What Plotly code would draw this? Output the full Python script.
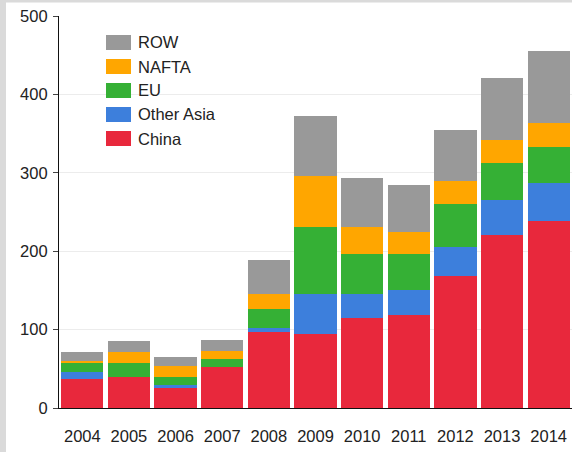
import plotly.graph_objects as go

# Stacked bars by region, 2004-2014
years = ["2004", "2005", "2006", "2007", "2008", "2009", "2010", "2011", "2012", "2013", "2014"]

china = [37, 39, 25, 52, 97, 94, 115, 119, 169, 221, 238]
other_asia = [9, 0, 4, 0, 5.5, 52, 31, 31, 37, 44, 49]
eu = [11, 19, 11, 10, 23.5, 85, 50, 46, 54, 48, 46]
nafta = [3, 13, 13, 11, 20, 65, 35, 29, 30, 29, 31]
row = [11, 14, 12, 14, 43, 76, 62, 59, 64, 79, 92]

series_names = ["China", "Other Asia", "EU", "NAFTA", "ROW"]
series_values = [china, other_asia, eu, nafta, row]
series_colors = ["#e8283c", "#3d7fdc", "#35b035", "#ffa600", "#999999"]

y_ticks = [0, 100, 200, 300, 400, 500]

W, H = 572, 452
M_L, M_R, M_T, M_B = 59, 0, 16, 44
plot_w = W - M_L - M_R
plot_h = H - M_T - M_B

fig = go.Figure()
for name, vals, col in zip(series_names, series_values, series_colors):
    fig.add_trace(go.Bar(
        x=years, y=vals, name=name,
        marker=dict(color=col, line=dict(width=0)),
        showlegend=False,
    ))

# hand-made legend (wide swatches like the original), top to bottom = ROW .. China
shapes = []
annotations = []
sw_x0, sw_x1 = 106, 131
row_y = [42.5, 66.5, 90.5, 114.5, 138.5]
for i, (name, col) in enumerate(zip(series_names[::-1], series_colors[::-1])):
    cy = row_y[i]
    shapes.append(dict(
        type="rect", xref="paper", yref="paper",
        x0=(sw_x0 - M_L) / plot_w, x1=(sw_x1 - M_L) / plot_w,
        y0=1 - (cy + 7.5 - M_T) / plot_h, y1=1 - (cy - 7.5 - M_T) / plot_h,
        fillcolor=col, line=dict(width=0),
    ))
    annotations.append(dict(
        xref="paper", yref="paper",
        x=(136 - M_L) / plot_w, y=1 - (cy - M_T) / plot_h,
        xanchor="left", yanchor="middle", showarrow=False,
        text=name, font=dict(size=16.5, color="#222222"),
    ))

# light grey frame on left and top edge of the screenshot
shapes.append(dict(
    type="rect", xref="paper", yref="paper", layer="below",
    x0=-M_L / plot_w, x1=(6 - M_L) / plot_w,
    y0=-M_B / plot_h, y1=1 + M_T / plot_h,
    fillcolor="#dadada", line=dict(width=0),
))
shapes.append(dict(
    type="rect", xref="paper", yref="paper", layer="below",
    x0=-M_L / plot_w, x1=1,
    y0=1 + (M_T - 2.5) / plot_h, y1=1 + M_T / plot_h,
    fillcolor="#dadada", line=dict(width=0),
))

fig.update_layout(
    width=W, height=H,
    margin=dict(l=M_L, r=M_R, t=M_T, b=M_B, pad=0),
    barmode="stack",
    bargap=0.095,
    paper_bgcolor="white",
    plot_bgcolor="white",
    font=dict(family="Liberation Sans, Arial, sans-serif", size=16, color="#222222"),
    shapes=shapes,
    annotations=annotations,
)

fig.update_xaxes(
    type="category",
    showline=True, linecolor="#111111", linewidth=1.2,
    ticks="", showgrid=False,
    tickfont=dict(size=16.5),
    ticklabelstandoff=13,
)
fig.update_yaxes(
    range=[0, 500],
    tickvals=y_ticks,
    showline=True, linecolor="#111111", linewidth=1.2,
    ticks="outside", ticklen=5, tickcolor="#444444",
    showgrid=True, gridcolor="#ececec", gridwidth=1,
    zeroline=False,
    tickfont=dict(size=16.5),
    ticklabelstandoff=2,
)

# drop the default 8px body margin so the figure fills the window exactly
fig.write_html(
    "out.html",
    config={"displayModeBar": False},
    post_script="document.body.style.margin='0';document.body.style.overflow='hidden';",
)
